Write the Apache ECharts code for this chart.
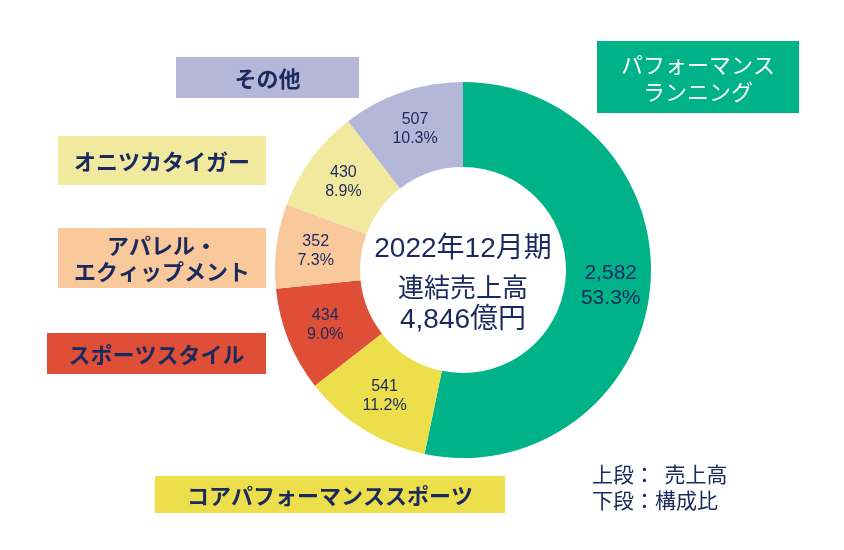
<!DOCTYPE html>
<html>
<head>
<meta charset="utf-8">
<script src="https://cdn.jsdelivr.net/npm/echarts@6/dist/echarts.min.js"></script>
<style>
    html, body { margin: 0; padding: 0; background: #fff; }
    #chart { width: 844px; height: 550px; }
</style>
</head>
<body>
<div id="chart"></div>
<script>
    // セグメント別売上高（億円）
    const segmentNames = ['パフォーマンスランニング', 'コアパフォーマンススポーツ', 'スポーツスタイル', 'アパレル・エクィップメント', 'オニツカタイガー', 'その他']
    const segmentLabels = ['パフォーマンス\nランニング', 'コアパフォーマンススポーツ', 'スポーツスタイル', 'アパレル・\nエクィップメント', 'オニツカタイガー', 'その他']
    const salesValues = [2582, 541, 434, 352, 430, 507]
    const shareValues = ['53.3%', '11.2%', '9.0%', '7.3%', '8.9%', '10.3%']
    const segmentColors = ['#00B287', '#ECDF4B', '#DF4F37', '#F9C89B', '#F0E99E', '#B4B7D8']
    const centerLines = ['2022年12月期', '連結売上高', '4,846億円']
    const noteLines = ['上段：  売上高', '下段：構成比']

    const navy = '#1B2A5E'
    const font = '"Liberation Sans", "Noto Sans CJK JP", sans-serif'
    const jpFont = '"Noto Sans CJK JP", sans-serif'

    // 凡例ボックスの位置 [x, y, w, h]
    const boxes = [
        [597, 41, 202, 72],
        [155, 476, 350, 37],
        [47, 333, 219, 41],
        [58, 228, 208, 60],
        [58, 136, 208, 49],
        [176, 57, 183, 41]
    ]

    const chart = echarts.init(document.getElementById('chart'))

    const graphics = []
    boxes.forEach((b, i) => {
        graphics.push({
            type: 'rect',
            shape: { x: b[0], y: b[1], width: b[2], height: b[3] },
            style: { fill: segmentColors[i] }
        })
        graphics.push({
            type: 'text',
            x: b[0] + b[2] / 2,
            y: b[1] + b[3] / 2 + 1,
            style: {
                text: segmentLabels[i],
                fill: i === 0 ? '#fff' : navy,
                font: (i === 0 ? 'normal 22px ' : 'bold 22px ') + jpFont,
                align: 'center',
                verticalAlign: 'middle',
                lineHeight: i === 0 ? 27 : 26
            }
        })
    })

    const centerY = [249, 290, 320]
    const centerSize = [28, 26, 28]
    centerLines.forEach((t, i) => {
        graphics.push({
            type: 'text',
            x: 463,
            y: centerY[i],
            style: {
                text: t,
                fill: navy,
                font: centerSize[i] + 'px ' + font,
                align: 'center',
                verticalAlign: 'middle'
            }
        })
    })

    noteLines.forEach((t, i) => {
        graphics.push({
            type: 'text',
            x: 592,
            y: 474 + i * 26,
            style: {
                text: t,
                fill: navy,
                font: '21px ' + jpFont,
                verticalAlign: 'middle'
            }
        })
    })

    chart.setOption({
        animation: false,
        series: [{
            type: 'pie',
            center: [463, 270],
            radius: [103, 188],
            startAngle: 90,
            clockwise: true,
            silent: true,
            label: {
                show: true,
                position: 'inside',
                color: navy,
                fontFamily: font,
                fontSize: 16,
                lineHeight: 19,
                formatter: (p) => salesValues[p.dataIndex].toLocaleString('en-US') + '\n' + shareValues[p.dataIndex]
            },
            labelLine: { show: false },
            data: salesValues.map((v, i) => ({
                name: segmentNames[i],
                value: v,
                itemStyle: { color: segmentColors[i] },
                label: i === 0 ? { fontSize: 21, lineHeight: 25 } : {}
            }))
        }],
        graphic: graphics
    })
</script>
</body>
</html>
